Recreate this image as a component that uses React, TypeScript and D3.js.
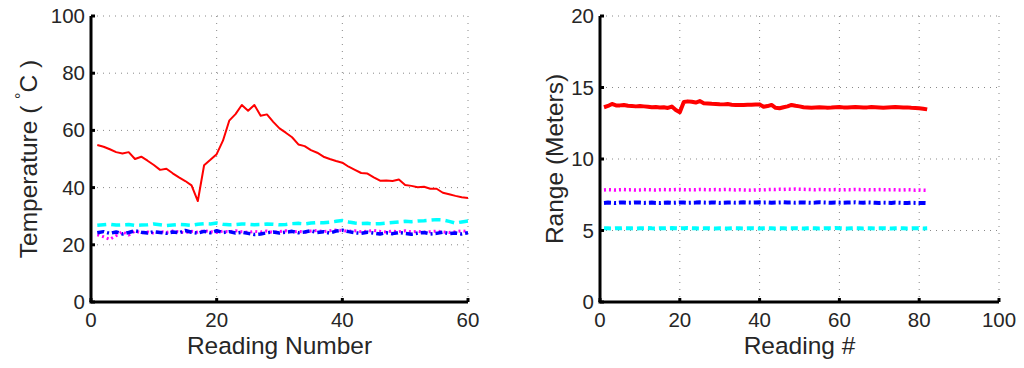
import * as d3 from "d3";

// left panel: temperature per reading (1..60)
const tempRed = [
  54.9, 54.3, 53.4, 52.4, 51.9, 52.4, 50.0, 50.8, 49.4, 47.9,
  46.2, 46.6, 45.0, 43.6, 42.3, 40.8, 35.3, 47.8, 49.7, 51.7,
  56.4, 63.4, 65.7, 68.9, 66.9, 68.9, 65.1, 65.6, 63.0, 60.7,
  59.2, 57.6, 55.1, 54.5, 53.1, 52.2, 50.8, 50.0, 49.3, 48.7,
  47.3, 46.2, 45.1, 44.9, 43.6, 42.4, 42.5, 42.3, 42.8, 40.9,
  40.6, 40.1, 40.3, 39.6, 39.6, 38.2, 37.7, 37.1, 36.6, 36.4,
];
const tempCyan = [
  26.8, 27.0, 27.2, 26.9, 27.0, 27.1, 26.8, 26.9, 27.0, 27.3,
  27.0, 26.7, 26.9, 27.1, 27.0, 26.8, 27.2, 27.4, 27.3, 27.6,
  27.2, 27.0, 27.1, 27.3, 27.2, 27.0, 27.1, 27.3, 27.2, 27.0,
  27.1, 27.4, 27.5, 27.3, 27.6, 27.8, 27.7, 27.9, 28.2, 28.5,
  28.0, 27.6, 27.4, 27.5, 27.3, 27.4, 27.6, 27.8, 28.0, 28.2,
  28.1, 28.3, 28.4, 28.6, 28.8, 28.7, 28.2, 27.6, 28.0, 28.3,
];
const tempBlue = [
  24.2, 24.6, 24.0, 24.5, 23.8, 24.3, 24.9, 24.4, 24.1, 24.6,
  24.3, 24.0, 24.5, 24.2, 25.0, 24.4, 24.1, 24.7, 24.2, 24.9,
  24.3, 24.6, 24.1, 24.4, 24.0, 23.6, 23.8, 24.2, 24.5, 24.1,
  24.4, 24.7, 24.2, 24.5, 24.9, 24.3, 24.6, 24.1, 24.8, 25.1,
  24.6, 24.2, 24.0, 24.4, 24.1, 23.8, 24.2, 23.9, 24.3, 24.0,
  23.7, 24.1, 24.3, 23.8, 24.0, 24.4, 23.9, 24.1, 23.8, 24.2,
];
const tempMagenta = [
  23.5, 22.8, 21.9, 23.2, 24.6, 23.4, 24.8, 24.2, 24.5, 24.0,
  24.6, 24.3, 24.8, 24.5, 24.2, 24.7, 24.4, 24.9, 24.6, 24.3,
  24.8, 24.5, 24.9, 24.6, 24.4, 24.7, 24.5, 24.8, 24.3, 24.6,
  24.9, 24.5, 24.7, 24.4, 24.8, 25.0, 24.6, 24.9, 25.2, 25.0,
  24.7, 24.9, 24.6, 24.8, 25.0, 24.7, 24.5, 24.8, 24.6, 24.9,
  24.5, 24.7, 24.4, 24.6, 24.8, 24.5, 24.3, 24.6, 24.9, 24.7,
];

// right panel: range per reading (1..82)
const rangeRed = [
  13.62, 13.71, 13.85, 13.75, 13.75, 13.78, 13.72, 13.70, 13.68, 13.70,
  13.68, 13.66, 13.62, 13.63, 13.60, 13.62, 13.57, 13.67, 13.43, 13.27,
  13.99, 14.03, 14.00, 13.95, 14.05, 13.90, 13.88, 13.86, 13.85, 13.83,
  13.82, 13.84, 13.80, 13.78, 13.77, 13.78, 13.80, 13.79, 13.81, 13.82,
  13.65, 13.70, 13.78, 13.58, 13.55, 13.62, 13.68, 13.78, 13.72, 13.68,
  13.62, 13.60, 13.58, 13.60, 13.62, 13.61, 13.59, 13.60, 13.62, 13.63,
  13.61, 13.60, 13.62, 13.64, 13.62, 13.60, 13.61, 13.63, 13.62, 13.60,
  13.58, 13.60, 13.62, 13.64, 13.62, 13.60, 13.61, 13.58, 13.57, 13.55,
  13.52, 13.47,
];
const rangeMagenta = [
  7.84, 7.86, 7.85, 7.83, 7.85, 7.86, 7.84, 7.85, 7.83, 7.84,
  7.86, 7.85, 7.84, 7.83, 7.85, 7.86, 7.85, 7.84, 7.86, 7.87,
  7.85, 7.84, 7.86, 7.85, 7.87, 7.86, 7.85, 7.84, 7.86, 7.85,
  7.86, 7.87, 7.85, 7.84, 7.85, 7.84, 7.83, 7.82, 7.84, 7.85,
  7.84, 7.86, 7.87, 7.86, 7.88, 7.87, 7.89, 7.88, 7.90, 7.89,
  7.88, 7.87, 7.86, 7.85, 7.87, 7.86, 7.84, 7.85, 7.86, 7.85,
  7.84, 7.86, 7.85, 7.87, 7.86, 7.85, 7.86, 7.84, 7.85, 7.86,
  7.85, 7.84, 7.86, 7.85, 7.84, 7.83, 7.85, 7.84, 7.82, 7.83,
  7.82, 7.81,
];
const rangeBlue = [
  6.93, 6.95, 6.94, 6.92, 6.96, 6.95, 6.93, 6.94, 6.96, 6.95,
  6.93, 6.94, 6.95, 6.93, 6.92, 6.94, 6.95, 6.93, 6.94, 6.96,
  6.95, 6.93, 6.94, 6.95, 6.97, 6.95, 6.94, 6.96, 6.95, 6.93,
  6.94, 6.95, 6.96, 6.94, 6.95, 6.97, 6.96, 6.95, 6.96, 6.97,
  6.95, 6.96, 6.94, 6.95, 6.96, 6.97, 6.95, 6.96, 6.94, 6.95,
  6.96, 6.95, 6.94, 6.95, 6.97, 6.96, 6.95, 6.94, 6.96, 6.95,
  6.94, 6.95, 6.96, 6.97, 6.95, 6.94, 6.96, 6.95, 6.94, 6.93,
  6.95, 6.94, 6.93, 6.95, 6.94, 6.93, 6.92, 6.94, 6.93, 6.92,
  6.93, 6.92,
];
const rangeCyan = [
  5.16, 5.15, 5.14, 5.16, 5.15, 5.17, 5.16, 5.15, 5.14, 5.15,
  5.16, 5.17, 5.15, 5.14, 5.16, 5.15, 5.16, 5.17, 5.16, 5.15,
  5.16, 5.17, 5.16, 5.15, 5.14, 5.15, 5.16, 5.15, 5.14, 5.16,
  5.15, 5.14, 5.15, 5.16, 5.15, 5.14, 5.15, 5.16, 5.15, 5.14,
  5.15, 5.16, 5.15, 5.14, 5.16, 5.15, 5.14, 5.15, 5.16, 5.15,
  5.14, 5.15, 5.16, 5.15, 5.14, 5.15, 5.16, 5.15, 5.17, 5.16,
  5.15, 5.14, 5.15, 5.16, 5.15, 5.14, 5.16, 5.15, 5.14, 5.15,
  5.16, 5.15, 5.14, 5.15, 5.16, 5.15, 5.14, 5.15, 5.16, 5.15,
  5.14, 5.15,
];

const leftXTicks = [0, 20, 40, 60];
const leftYTicks = [0, 20, 40, 60, 80, 100];
const rightXTicks = [0, 20, 40, 60, 80, 100];
const rightYTicks = [0, 5, 10, 15, 20];

const FONT = "'Liberation Sans', Arial, sans-serif";
const INK = "#262626";

type Series = { values: number[]; color: string; width: number; dash?: string };

type PanelProps = {
  x0: number;
  x1: number;
  xDomain: [number, number];
  yDomain: [number, number];
  xTicks: number[];
  yTicks: number[];
  series: Series[];
  xTitle: string;
  yTitle: React.ReactNode;
  yTitleX: number;
};

const TOP = 16;
const BOTTOM = 302;

function Panel(props: PanelProps) {
  const { x0, x1, xDomain, yDomain, xTicks, yTicks, series } = props;
  const xScale = d3.scaleLinear().domain(xDomain).range([x0, x1]);
  const yScale = d3.scaleLinear().domain(yDomain).range([BOTTOM, TOP]);

  return (
    <g>
      {/* dotted grid */}
      {xTicks.filter((t) => t !== xDomain[0]).map((t) => (
        <line key={"gx" + t} x1={xScale(t)} x2={xScale(t)} y1={TOP} y2={BOTTOM}
          stroke="#888" strokeWidth={1} strokeDasharray="1,6" />
      ))}
      {yTicks.filter((t) => t !== yDomain[0]).map((t) => (
        <line key={"gy" + t} x1={x0} x2={x1} y1={yScale(t)} y2={yScale(t)}
          stroke="#888" strokeWidth={1} strokeDasharray="1,5" />
      ))}

      {series.map((s, i) => {
        const line = d3.line<number>()
          .x((_, j) => xScale(j + 1))
          .y((d) => yScale(d));
        return (
          <path key={i} d={line(s.values) || ""} fill="none" stroke={s.color}
            strokeWidth={s.width} strokeDasharray={s.dash} strokeLinejoin="round" />
        );
      })}

      {/* axes */}
      <line x1={x0} x2={x0} y1={TOP} y2={BOTTOM} stroke="#000" strokeWidth={3} />
      <line x1={x0 - 1.5} x2={x1} y1={BOTTOM} y2={BOTTOM} stroke="#000" strokeWidth={3} />
      {xTicks.map((t) => (
        <line key={"tx" + t} x1={xScale(t)} x2={xScale(t)} y1={BOTTOM} y2={BOTTOM - 4}
          stroke="#000" strokeWidth={3} />
      ))}
      {yTicks.map((t) => (
        <line key={"ty" + t} x1={x0} x2={x0 + 4} y1={yScale(t)} y2={yScale(t)}
          stroke="#000" strokeWidth={3} />
      ))}

      {xTicks.map((t) => (
        <text key={"lx" + t} x={xScale(t)} y={327} textAnchor="middle"
          fontFamily={FONT} fontSize={20.5} fill={INK}>{t}</text>
      ))}
      {yTicks.map((t) => (
        <text key={"ly" + t} x={x0 - 6} y={yScale(t) + 7} textAnchor="end"
          fontFamily={FONT} fontSize={20.5} fill={INK}>{t}</text>
      ))}

      <text x={(x0 + x1) / 2} y={354} textAnchor="middle" fontFamily={FONT}
        fontSize={24.5} fill={INK}>{props.xTitle}</text>
      <text transform={`translate(${props.yTitleX},${(TOP + BOTTOM) / 2}) rotate(-90)`}
        textAnchor="middle" fontFamily={FONT} fontSize={24.5} fill={INK}>{props.yTitle}</text>
    </g>
  );
}

export default function App() {
  return (
    <svg width={1024} height={368} style={{ position: "absolute", left: 0, top: 0, background: "#fff" }}>
      <Panel
        x0={91}
        x1={468}
        xDomain={[0, 60]}
        yDomain={[0, 100]}
        xTicks={leftXTicks}
        yTicks={leftYTicks}
        series={[
          { values: tempRed, color: "#ff0000", width: 2 },
          { values: tempCyan, color: "#00ffff", width: 3.5, dash: "9,5" },
          { values: tempMagenta, color: "#ff00ff", width: 3, dash: "2,3" },
          { values: tempBlue, color: "#0000ff", width: 3.5, dash: "7,3,2,3" },
        ]}
        xTitle="Reading Number"
        yTitle={<>Temperature ( <tspan fontSize={16} dy={-10}>°</tspan><tspan dy={10}>C )</tspan></>}
        yTitleX={37}
      />
      <Panel
        x0={600}
        x1={999}
        xDomain={[0, 100]}
        yDomain={[0, 20]}
        xTicks={rightXTicks}
        yTicks={rightYTicks}
        series={[
          { values: rangeRed, color: "#ff0000", width: 4 },
          { values: rangeMagenta, color: "#ff00ff", width: 3.5, dash: "2,3" },
          { values: rangeBlue, color: "#0000ff", width: 4, dash: "7,3,2,3" },
          { values: rangeCyan, color: "#00ffff", width: 4, dash: "7,4" },
        ]}
        xTitle="Reading #"
        yTitle="Range (Meters)"
        yTitleX={563}
      />
    </svg>
  );
}
